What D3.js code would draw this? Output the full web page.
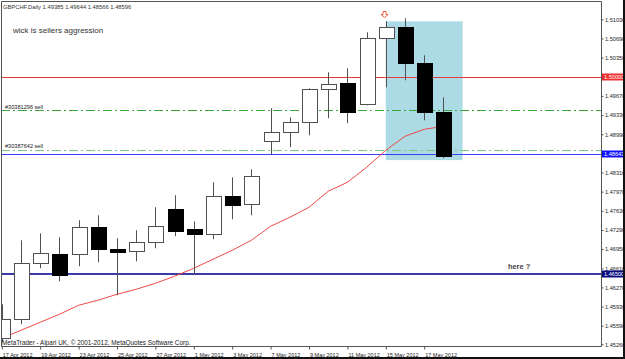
<!DOCTYPE html>
<html>
<head>
<meta charset="utf-8">
<script src="https://cdn.jsdelivr.net/npm/d3@7"></script>
<style>
  html, body { margin: 0; padding: 0; background: #fff; }
  svg { display: block; font-family: "Liberation Sans", Arial, sans-serif; }
</style>
</head>
<body>
<svg id="chart" width="625" height="359"></svg>
<script>
// daily bars, GBPCHF
const dates = ["17 Apr 2012", "18 Apr 2012", "19 Apr 2012", "20 Apr 2012", "23 Apr 2012", "24 Apr 2012",
    "25 Apr 2012", "26 Apr 2012", "27 Apr 2012", "30 Apr 2012", "1 May 2012", "2 May 2012",
    "3 May 2012", "4 May 2012", "7 May 2012", "8 May 2012", "9 May 2012", "10 May 2012",
    "11 May 2012", "14 May 2012", "15 May 2012", "16 May 2012", "17 May 2012", "18 May 2012"];
const opens  = [1.45367, 1.45704, 1.46698, 1.46858, 1.46858, 1.47338, 1.46947, 1.46912, 1.47071, 1.47657, 1.47302, 1.47213,
    1.47888, 1.47746, 1.48864, 1.49024, 1.49202, 1.49787, 1.49894, 1.49521, 1.50693, 1.50888, 1.50249, 1.49385];
const highs  = [1.45971, 1.47107, 1.47231, 1.47160, 1.47462, 1.47551, 1.47142, 1.47284, 1.47693, 1.47906, 1.47444, 1.48136,
    1.48225, 1.48367, 1.49450, 1.49290, 1.49805, 1.50089, 1.50160, 1.50799, 1.50994, 1.51048, 1.50391, 1.49644];
const lows   = [1.45297, 1.45616, 1.46610, 1.46379, 1.46645, 1.46716, 1.46130, 1.46734, 1.46965, 1.47178, 1.46500, 1.47125,
    1.47480, 1.47551, 1.48633, 1.48758, 1.48971, 1.49273, 1.49184, 1.49503, 1.49823, 1.49947, 1.49237, 1.48566];
const closes = [1.45704, 1.46698, 1.46876, 1.46490, 1.47338, 1.46947, 1.46894, 1.47071, 1.47355, 1.47267, 1.47213, 1.47888,
    1.47728, 1.48243, 1.49024, 1.49202, 1.49787, 1.49876, 1.49379, 1.50693, 1.50888, 1.50249, 1.49385, 1.48596];
const maValues = [1.45367, 1.45509, 1.45651, 1.45793, 1.45953, 1.46042, 1.46148, 1.46237, 1.46343, 1.46468, 1.46610, 1.46770,
    1.46929, 1.47107, 1.47355, 1.47515, 1.47693, 1.47977, 1.48136, 1.48403, 1.48705, 1.48953, 1.49077, 1.49130];

const priceTicks = [1.45260, 1.45590, 1.45930, 1.46270, 1.46610, 1.46950, 1.47290, 1.47630, 1.47970, 1.48310,
    1.48650, 1.48990, 1.49330, 1.49670, 1.50010, 1.50350, 1.50690, 1.51030];

const priceLines = [1.50000, 1.48643, 1.46500];
const orderLevels = [1.49415, 1.48717];
const orderLabels = ["#30381296 sell", "#30387642 sell"];
const zoneBars = [20, 24];
const zonePrices = [1.50994, 1.48530];
const arrowBar = 20;

const header = "GBPCHF.Daily  1.49385 1.49644 1.48566 1.48596";
const note = "wick is sellers aggression";
const note2 = "here ?";
const copyright = "MetaTrader - Alpari UK, \u00a9 2001-2012, MetaQuotes Software Corp.";

const width = 625, height = 359;
const plot = { left: 1, top: 1, right: 601, bottom: 346 };

const svg = d3.select("#chart");

const x = d3.scaleLinear().domain([0, 23]).range([1.8, 443.4]);
const y = d3.scaleLinear().domain([1.45260, 1.51030]).range([344.3, 19.3]);

svg.append("rect").attr("width", width).attr("height", height).attr("fill", "#fff");

svg.append("clipPath").attr("id", "clip")
    .append("rect")
    .attr("x", plot.left).attr("y", plot.top)
    .attr("width", plot.right - plot.left).attr("height", plot.bottom - plot.top);

const g = svg.append("g").attr("clip-path", "url(#clip)");

// highlighted zone
g.append("rect")
    .attr("x", x(zoneBars[0]))
    .attr("y", y(zonePrices[0]))
    .attr("width", x(zoneBars[1]) - x(zoneBars[0]))
    .attr("height", y(zonePrices[1]) - y(zonePrices[0]))
    .attr("fill", "#acdbe5");

// order lines (dash dot)
g.selectAll("line.order")
    .data(orderLevels)
    .join("line")
    .attr("class", "order")
    .attr("x1", plot.left).attr("x2", plot.right)
    .attr("y1", d => Math.round(y(d)) + 0.5)
    .attr("y2", d => Math.round(y(d)) + 0.5)
    .attr("stroke", (d, i) => i === 0 ? "#3aa83a" : "#7cc87c")
    .attr("stroke-width", 1)
    .attr("stroke-dasharray", "9,3,2,3");

// price lines
const lineColors = ["#e83a3a", "#3c3cff", "#3b3ba8"];
const lineWidths = [1, 1, 2];
g.selectAll("line.level")
    .data(priceLines)
    .join("line")
    .attr("class", "level")
    .attr("x1", plot.left).attr("x2", plot.right)
    .attr("y1", (d, i) => Math.round(y(d)) + (lineWidths[i] === 1 ? 0.5 : 0))
    .attr("y2", (d, i) => Math.round(y(d)) + (lineWidths[i] === 1 ? 0.5 : 0))
    .attr("stroke", (d, i) => lineColors[i])
    .attr("stroke-width", (d, i) => lineWidths[i]);

// moving average
g.append("path")
    .datum(maValues)
    .attr("fill", "none")
    .attr("stroke", "#f04848")
    .attr("stroke-width", 1)
    .attr("d", d3.line().x((d, i) => x(i)).y(d => y(d)));

// candles
const bars = d3.range(dates.length);
const candle = g.append("g").selectAll("g")
    .data(bars)
    .join("g");

candle.append("line")
    .attr("x1", i => Math.round(x(i)) + 0.5)
    .attr("x2", i => Math.round(x(i)) + 0.5)
    .attr("y1", i => y(highs[i]))
    .attr("y2", i => y(lows[i]))
    .attr("stroke", "#505050");

candle.append("rect")
    .attr("x", i => Math.round(x(i)) - 7 + 0.5)
    .attr("y", i => Math.round(y(Math.max(opens[i], closes[i]))) + 0.5)
    .attr("width", 15)
    .attr("height", i => Math.max(1, Math.round(Math.abs(y(opens[i]) - y(closes[i])))))
    .attr("fill", i => closes[i] >= opens[i] ? "#fff" : "#000")
    .attr("stroke", i => closes[i] >= opens[i] ? "#505050" : "#000");

// sell arrow above the top bar
const ax = Math.round(x(arrowBar)) - 1.5, ay = Math.round(y(highs[arrowBar])) - 9.5;
g.append("path")
    .attr("d", `M${ax - 1.5},${ay} L${ax + 1.5},${ay} L${ax + 1.5},${ay + 3} L${ax + 3.5},${ay + 3} L${ax},${ay + 6} L${ax - 3.5},${ay + 3} L${ax - 1.5},${ay + 3} Z`)
    .attr("fill", "#fff")
    .attr("stroke", "#f06040")
    .attr("stroke-width", 1);

// texts
g.selectAll("text.order")
    .data(orderLabels)
    .join("text")
    .attr("class", "order")
    .attr("x", 5)
    .attr("y", (d, i) => y(orderLevels[i]) - 1.5)
    .attr("font-size", 5.6)
    .attr("fill", "#222")
    .text(d => d);

svg.append("text").attr("x", 3).attr("y", 8.5)
    .attr("font-size", 5.8).attr("fill", "#333").text(header);
svg.append("text").attr("x", 13).attr("y", 32.5)
    .attr("font-size", 8).attr("fill", "#333").text(note);
svg.append("text").attr("x", 508).attr("y", 269)
    .attr("font-size", 7.4).attr("font-weight", "bold").attr("fill", "#444").text(note2);
svg.append("text").attr("x", 2).attr("y", 345)
    .attr("font-size", 6.4).attr("fill", "#222").text(copyright);

// frame
svg.append("path")
    .attr("d", `M${plot.left + 0.5},${plot.bottom + 0.5} V${plot.top + 0.5} H${plot.right + 0.5} V${plot.bottom + 0.5} H${plot.left + 0.5}`)
    .attr("fill", "none")
    .attr("stroke", "#555");

// right price axis
const yAxis = d3.axisRight(y)
    .tickValues(priceTicks)
    .tickSize(2)
    .tickPadding(1.5)
    .tickFormat(d3.format(".5f"));
const yg = svg.append("g")
    .attr("transform", `translate(${plot.right + 0.5},0)`)
    .call(yAxis);
yg.select(".domain").remove();
yg.selectAll("line").attr("stroke", "#555");
yg.selectAll("text").attr("font-size", 5.6).attr("fill", "#222")
    .attr("font-family", "Liberation Sans, Arial, sans-serif");

// price boxes
const boxColors = ["#ee2e2e", "#1010ff", "#0a0a80"];
const boxes = svg.append("g").selectAll("g")
    .data(priceLines)
    .join("g")
    .attr("transform", d => `translate(${plot.right + 1},${Math.round(y(d))})`);
boxes.append("rect")
    .attr("x", 0).attr("y", -3.5)
    .attr("width", 22).attr("height", 7)
    .attr("fill", (d, i) => boxColors[i]);
boxes.append("text")
    .attr("x", 2).attr("y", 2.1)
    .attr("font-size", 5.6).attr("fill", "#fff")
    .text(d => d3.format(".5f")(d));

// date axis
const labelBars = bars.filter(i => i % 2 === 0);
const xAxis = d3.axisBottom(x)
    .tickValues(labelBars)
    .tickSize(3)
    .tickPadding(0)
    .tickFormat(i => dates[i]);
const xg = svg.append("g")
    .attr("transform", `translate(0,${plot.bottom + 0.5})`)
    .call(xAxis);
xg.select(".domain").remove();
xg.selectAll("line").attr("stroke", "#555");
xg.selectAll("text")
    .attr("text-anchor", "start")
    .attr("dx", 0.5)
    .attr("dy", 7.5)
    .attr("font-size", 5.5).attr("fill", "#222")
    .attr("font-family", "Liberation Sans, Arial, sans-serif");

// window edges
svg.append("rect").attr("x", 0).attr("y", height - 2).attr("width", width).attr("height", 2).attr("fill", "#111");
svg.append("rect").attr("x", width - 2).attr("y", 0).attr("width", 2).attr("height", height).attr("fill", "#111");
</script>
</body>
</html>
